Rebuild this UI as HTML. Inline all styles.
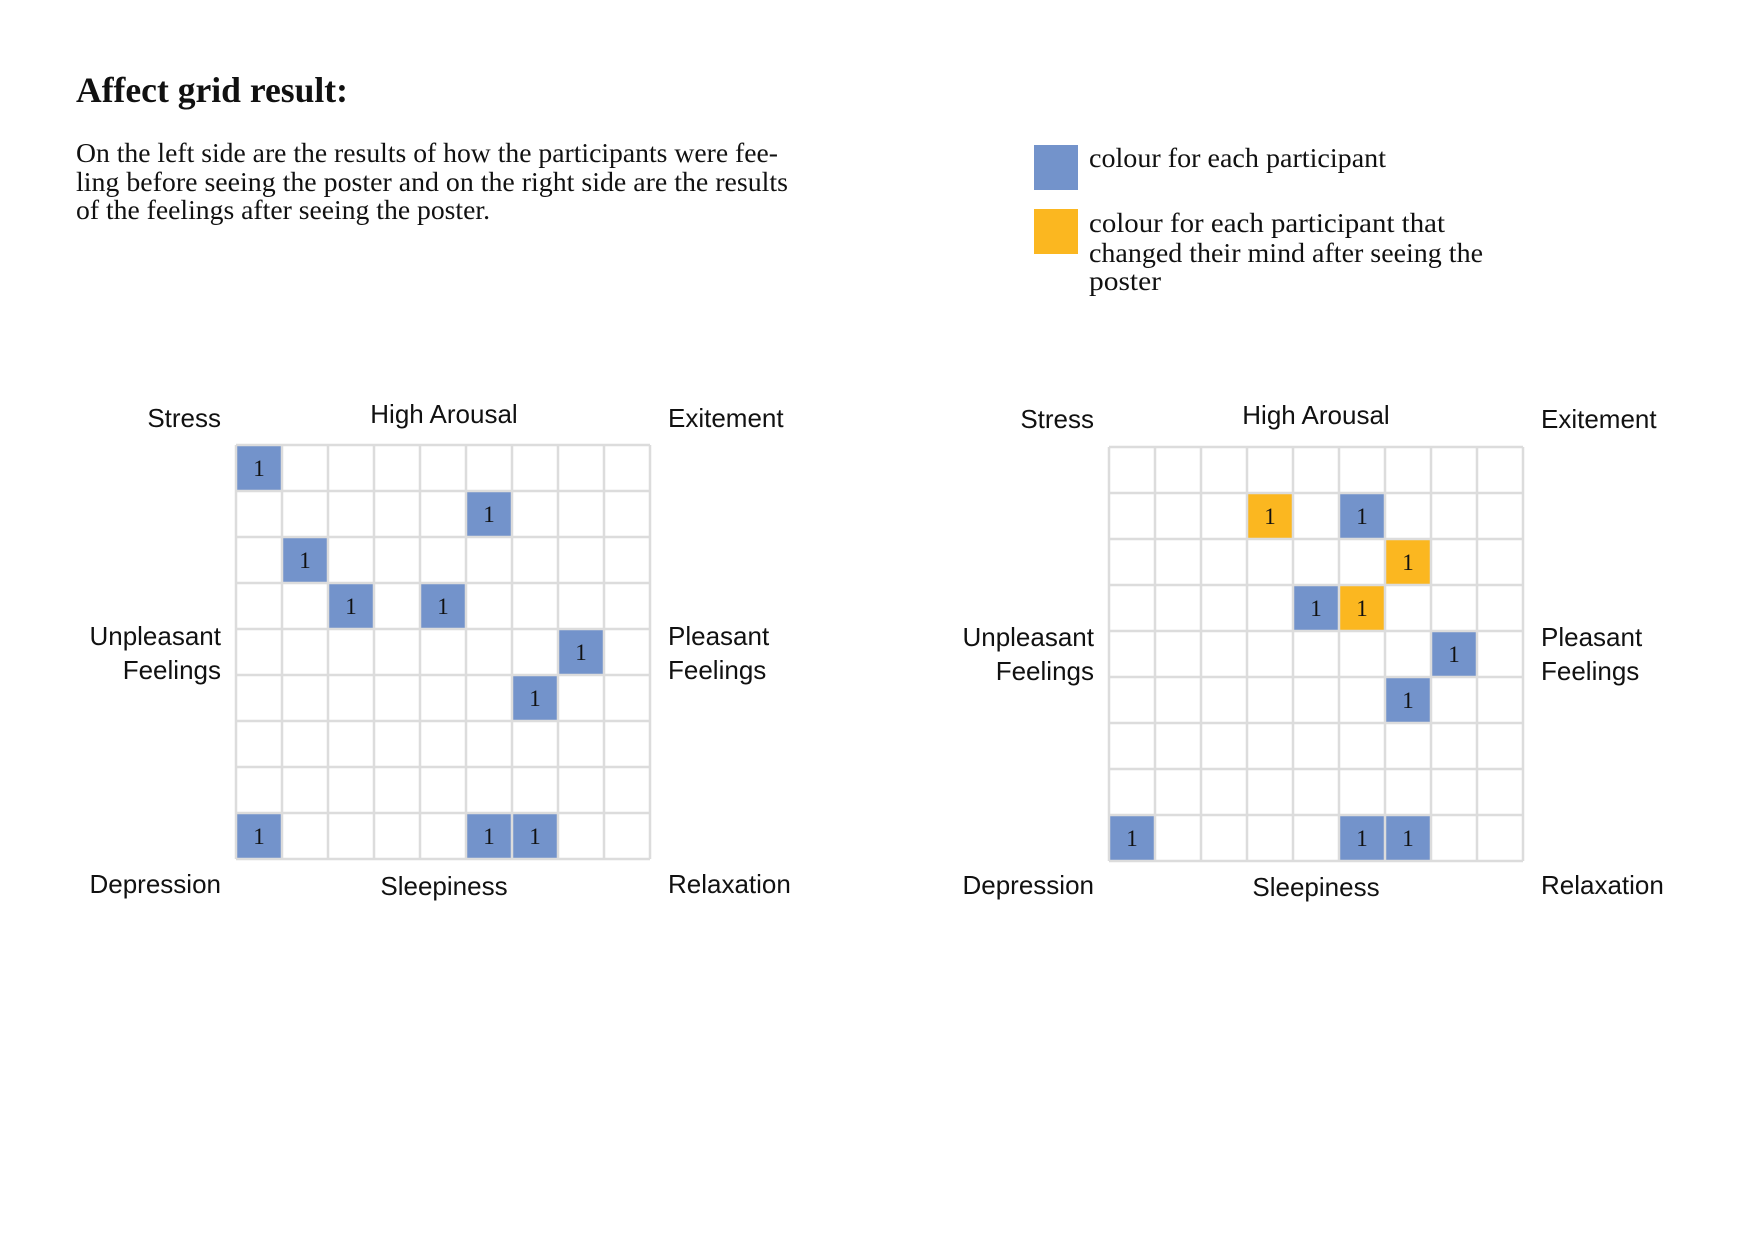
<!DOCTYPE html>
<html><head><meta charset="utf-8"><style>
html,body{margin:0;padding:0;background:#fff;}
svg{display:block}
.s{font-family:"Liberation Serif",serif;fill:#111}
.h{font-family:"Liberation Sans",sans-serif;font-size:26px;fill:#111}
.n{font-family:"Liberation Serif",serif;font-size:23px;fill:#111;text-anchor:middle}
</style></head><body>
<svg width="1754" height="1240" viewBox="0 0 1754 1240" xmlns="http://www.w3.org/2000/svg">
<rect width="1754" height="1240" fill="#fff"/>
<text class="s" x="76" y="102" font-size="36" font-weight="bold" textLength="272" lengthAdjust="spacingAndGlyphs">Affect grid result:</text>
<text class="s" x="76" y="162" font-size="27" textLength="702" lengthAdjust="spacingAndGlyphs">On the left side are the results of how the participants were fee-</text>
<text class="s" x="76" y="191" font-size="27" textLength="712" lengthAdjust="spacingAndGlyphs">ling before seeing the poster and on the right side are the results</text>
<text class="s" x="76" y="219" font-size="27" textLength="414" lengthAdjust="spacingAndGlyphs">of the feelings after seeing the poster.</text>

<rect x="1034" y="145" width="44" height="45" fill="#7393cb"/>
<rect x="1034" y="209" width="44" height="45" fill="#fbb720"/>
<text class="s" x="1089" y="167" font-size="27" textLength="297" lengthAdjust="spacingAndGlyphs">colour for each participant</text>
<text class="s" x="1089" y="232" font-size="27" textLength="356" lengthAdjust="spacingAndGlyphs">colour for each participant that</text>
<text class="s" x="1089" y="262" font-size="27" textLength="394" lengthAdjust="spacingAndGlyphs">changed their mind after seeing the</text>
<text class="s" x="1089" y="290" font-size="27" textLength="72" lengthAdjust="spacingAndGlyphs">poster</text>

<g class="h">
<text x="221" y="427" text-anchor="end">Stress</text>
<text x="444" y="423" text-anchor="middle">High Arousal</text>
<text x="668" y="427">Exitement</text>
<text x="221" y="645" text-anchor="end">Unpleasant</text>
<text x="221" y="679" text-anchor="end">Feelings</text>
<text x="668" y="645">Pleasant</text>
<text x="668" y="679">Feelings</text>
<text x="221" y="893" text-anchor="end">Depression</text>
<text x="444" y="895" text-anchor="middle">Sleepiness</text>
<text x="668" y="893">Relaxation</text>
</g>
<g class="h">
<text x="1094" y="428" text-anchor="end">Stress</text>
<text x="1316" y="424" text-anchor="middle">High Arousal</text>
<text x="1541" y="428">Exitement</text>
<text x="1094" y="646" text-anchor="end">Unpleasant</text>
<text x="1094" y="680" text-anchor="end">Feelings</text>
<text x="1541" y="646">Pleasant</text>
<text x="1541" y="680">Feelings</text>
<text x="1094" y="894" text-anchor="end">Depression</text>
<text x="1316" y="896" text-anchor="middle">Sleepiness</text>
<text x="1541" y="894">Relaxation</text>
</g>

<g fill="#7393cb">
<rect x="236" y="445" width="46" height="46"/>
<rect x="466" y="491" width="46" height="46"/>
<rect x="282" y="537" width="46" height="46"/>
<rect x="328" y="583" width="46" height="46"/>
<rect x="420" y="583" width="46" height="46"/>
<rect x="558" y="629" width="46" height="46"/>
<rect x="512" y="675" width="46" height="46"/>
<rect x="236" y="813" width="46" height="46"/>
<rect x="466" y="813" width="46" height="46"/>
<rect x="512" y="813" width="46" height="46"/>
</g>
<g fill="none" stroke="#dcdcdc" stroke-width="2.5">
<path d="M236 445V859M282 445V859M328 445V859M374 445V859M420 445V859M466 445V859M512 445V859M558 445V859M604 445V859M650 445V859"/>
<path d="M236 445H650M236 491H650M236 537H650M236 583H650M236 629H650M236 675H650M236 721H650M236 767H650M236 813H650M236 859H650"/>
</g>
<g class="n">
<text x="259" y="476">1</text>
<text x="489" y="522">1</text>
<text x="305" y="568">1</text>
<text x="351" y="614">1</text>
<text x="443" y="614">1</text>
<text x="581" y="660">1</text>
<text x="535" y="706">1</text>
<text x="259" y="844">1</text>
<text x="489" y="844">1</text>
<text x="535" y="844">1</text>
</g>

<g fill="#7393cb">
<rect x="1339" y="493" width="46" height="46"/>
<rect x="1293" y="585" width="46" height="46"/>
<rect x="1431" y="631" width="46" height="46"/>
<rect x="1385" y="677" width="46" height="46"/>
<rect x="1109" y="815" width="46" height="46"/>
<rect x="1339" y="815" width="46" height="46"/>
<rect x="1385" y="815" width="46" height="46"/>
</g>
<g fill="#fbb720">
<rect x="1247" y="493" width="46" height="46"/>
<rect x="1385" y="539" width="46" height="46"/>
<rect x="1339" y="585" width="46" height="46"/>
</g>
<g fill="none" stroke="#dcdcdc" stroke-width="2.5">
<path d="M1109 447V861M1155 447V861M1201 447V861M1247 447V861M1293 447V861M1339 447V861M1385 447V861M1431 447V861M1477 447V861M1523 447V861"/>
<path d="M1109 447H1523M1109 493H1523M1109 539H1523M1109 585H1523M1109 631H1523M1109 677H1523M1109 723H1523M1109 769H1523M1109 815H1523M1109 861H1523"/>
</g>
<g class="n">
<text x="1270" y="524">1</text>
<text x="1362" y="524">1</text>
<text x="1408" y="570">1</text>
<text x="1316" y="616">1</text>
<text x="1362" y="616">1</text>
<text x="1454" y="662">1</text>
<text x="1408" y="708">1</text>
<text x="1132" y="846">1</text>
<text x="1362" y="846">1</text>
<text x="1408" y="846">1</text>
</g>
</svg>
</body></html>
